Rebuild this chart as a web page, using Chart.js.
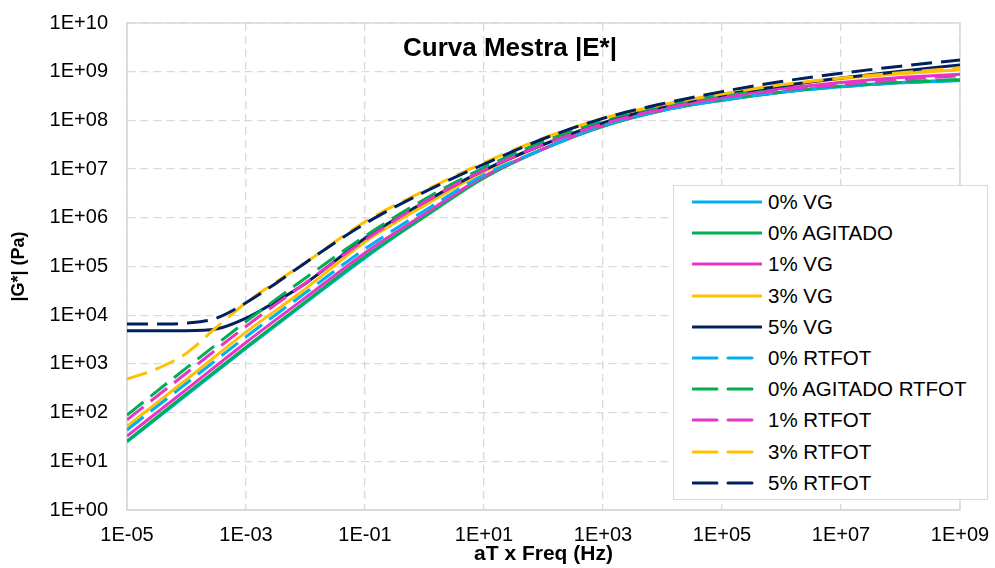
<!DOCTYPE html>
<html>
<head>
<meta charset="utf-8">
<script src="https://cdn.jsdelivr.net/npm/chart.js@4/dist/chart.umd.min.js"></script>
<style>
  html, body { margin: 0; padding: 0; background: #fff; }
  #wrap { position: relative; width: 995px; height: 568px; font-family: "Liberation Sans", Arial, sans-serif; }
  #title { position: absolute; left: 0; width: 1020px; top: 31px; text-align: center; font-weight: bold; font-size: 26px; color: #000; line-height: 32px; }
  #legend { position: absolute; left: 673px; top: 185px; width: 315px; height: 315px; border: 1.5px solid #D9D9D9; background: #fff; box-sizing: border-box; }
  .row { position: absolute; left: 0; height: 24px; }
  .row svg { position: absolute; left: 18px; top: 9px; }
  .row span { position: absolute; left: 94px; top: 0; font-size: 20.5px; line-height: 24px; white-space: nowrap; color: #000; }
</style>
</head>
<body>
<div id="wrap">
  <canvas id="c" width="995" height="568"></canvas>
  <div id="title">Curva Mestra |E*|</div>
  <div id="legend"></div>
</div>
<script>
// ---- data ----
const freqDecades = [1e-5, 1e-4, 1e-3, 1e-2, 1e-1, 1e0, 1e1, 1e2, 1e3, 1e4, 1e5, 1e6, 1e7, 1e8, 1e9];
const freqFine = [1e-5, 3.16e-5, 1e-4, 3.16e-4, 1e-3, 3.16e-3, 1e-2, 1e-1, 1e0, 1e1, 1e2, 1e3, 1e4, 1e5, 1e6, 1e7, 1e8, 1e9];

const g0VG       = [2.5e1, 2.3e2, 2.1e3, 1.8e4, 1.5e5, 1.07e6, 6.8e6, 2.6e7, 7.6e7, 1.6e8, 2.6e8, 3.8e8, 4.9e8, 5.9e8, 6.6e8];
const g0Agitado  = [2.6e1, 2.45e2, 2.2e3, 1.9e4, 1.6e5, 1.05e6, 6.6e6, 2.6e7, 7.6e7, 1.6e8, 2.6e8, 3.8e8, 5.0e8, 6.0e8, 6.8e8];
const g1VG       = [3.3e1, 3.0e2, 2.75e3, 2.3e4, 1.9e5, 1.2e6, 7.1e6, 2.6e7, 7.9e7, 1.66e8, 2.9e8, 4.5e8, 6.0e8, 7.6e8, 8.9e8];
const g3VG       = [5.2e1, 4.8e2, 4.5e3, 3.5e4, 3.2e5, 1.8e6, 8.9e6, 3.2e7, 8.9e7, 2.0e8, 3.4e8, 5.2e8, 7.2e8, 9.1e8, 1.1e9];
const g5VG       = [4.8e3, 4.8e3, 4.8e3, 5.2e3, 8.7e3, 1.9e4, 4.5e4, 3.8e5, 2.1e6, 9.5e6, 3.2e7, 8.9e7, 1.9e8, 3.3e8, 5.1e8, 7.4e8, 1.02e9, 1.38e9];
const g0RT       = [4.4e1, 4.0e2, 3.6e3, 2.9e4, 2.3e5, 1.4e6, 7.6e6, 2.6e7, 7.9e7, 1.6e8, 2.6e8, 3.8e8, 4.9e8, 5.9e8, 6.6e8];
const g0AgitRT   = [8.9e1, 8.3e2, 7.4e3, 5.8e4, 4.2e5, 2.4e6, 1.07e7, 3.7e7, 1.0e8, 2.0e8, 3.2e8, 4.2e8, 5.2e8, 6.2e8, 6.9e8];
const g1RT       = [7.1e1, 6.5e2, 5.9e3, 4.6e4, 3.5e5, 2.1e6, 9.5e6, 3.2e7, 8.5e7, 1.74e8, 2.9e8, 4.2e8, 5.5e8, 6.9e8, 8.3e8];
const g3RT       = [4.9e2, 7.9e2, 1.66e3, 5.6e3, 1.8e4, 4.8e4, 1.2e5, 8.3e5, 3.6e6, 1.35e7, 4.3e7, 1.1e8, 2.1e8, 3.5e8, 5.4e8, 7.4e8, 9.5e8, 1.2e9];
const g5RT       = [6.6e3, 6.6e3, 6.9e3, 8.7e3, 1.8e4, 4.5e4, 1.2e5, 7.6e5, 3.4e6, 1.26e7, 4.2e7, 1.1e8, 2.2e8, 3.9e8, 6.3e8, 9.3e8, 1.3e9, 1.74e9];

const seriesLabels = ['0% VG', '0% AGITADO', '1% VG', '3% VG', '5% VG', '0% RTFOT', '0% AGITADO RTFOT', '1% RTFOT', '3% RTFOT', '5% RTFOT'];
const seriesX = [freqDecades, freqDecades, freqDecades, freqDecades, freqFine, freqDecades, freqDecades, freqDecades, freqFine, freqFine];
const seriesY = [g0VG, g0Agitado, g1VG, g3VG, g5VG, g0RT, g0AgitRT, g1RT, g3RT, g5RT];
const seriesColors = ['#00B0F0', '#00B050', '#E636C9', '#FFC000', '#002060', '#00B0F0', '#00B050', '#E636C9', '#FFC000', '#002060'];
const seriesDashed = [false, false, false, false, false, true, true, true, true, true];

const xTickValues = [1e-5, 1e-3, 1e-1, 1e1, 1e3, 1e5, 1e7, 1e9];
const xTickLabels = ['1E-05', '1E-03', '1E-01', '1E+01', '1E+03', '1E+05', '1E+07', '1E+09'];
const yTickValues = [1e0, 1e1, 1e2, 1e3, 1e4, 1e5, 1e6, 1e7, 1e8, 1e9, 1e10];
const yTickLabels = ['1E+00', '1E+01', '1E+02', '1E+03', '1E+04', '1E+05', '1E+06', '1E+07', '1E+08', '1E+09', '1E+10'];

// ---- chart ----
const FONT = '"Liberation Sans", Arial, sans-serif';
const GRID = '#D9D9D9';
const DASH = [21, 9];

function labelFor(values, labels, v) {
  const i = values.findIndex(t => Math.abs(Math.log10(t) - Math.log10(v)) < 1e-6);
  return i >= 0 ? labels[i] : '';
}

const datasets = seriesLabels.map((lab, i) => ({
  label: lab,
  data: seriesX[i].map((x, k) => ({ x: x, y: seriesY[i][k] })),
  borderColor: seriesColors[i],
  backgroundColor: seriesColors[i],
  borderWidth: 3,
  borderDash: seriesDashed[i] ? DASH : [],
  pointRadius: 0,
  fill: false,
  cubicInterpolationMode: 'monotone',
  order: seriesLabels.length - i
}));

const frame = {
  id: 'frame',
  beforeDatasetsDraw(chart) {
    const a = chart.chartArea, ctx = chart.ctx;
    ctx.save();
    ctx.strokeStyle = GRID;
    ctx.lineWidth = 1.5;
    ctx.setLineDash([]);
    ctx.strokeRect(a.left, a.top, a.right - a.left, a.bottom - a.top);
    ctx.restore();
  }
};

new Chart(document.getElementById('c'), {
  type: 'line',
  data: { datasets },
  plugins: [frame],
  options: {
    responsive: false,
    devicePixelRatio: 1,
    animation: false,
    layout: { padding: { left: 0, right: 35, top: 23, bottom: 0 } },
    plugins: { legend: { display: false }, tooltip: { enabled: false }, title: { display: false } },
    scales: {
      x: {
        type: 'logarithmic',
        min: 1e-5, max: 1e9,
        afterBuildTicks: s => { s.ticks = xTickValues.map(v => ({ value: v })); },
        afterFit: s => { s.height = 58; s.paddingLeft = 0; s.paddingRight = 0; },
        ticks: {
          autoSkip: false, maxRotation: 0, minRotation: 0, padding: 13,
          color: '#000', font: { family: FONT, size: 20 },
          callback: v => labelFor(xTickValues, xTickLabels, v)
        },
        grid: { color: GRID, lineWidth: 1.3, drawTicks: false },
        border: { display: true, color: GRID, width: 1.5, dash: [8, 5] },
        title: { display: true, text: 'aT x Freq (Hz)', color: '#000', font: { family: FONT, size: 21, weight: 'bold' }, padding: { top: 0, bottom: 1 } }
      },
      y: {
        type: 'logarithmic',
        min: 1, max: 1e10,
        afterBuildTicks: s => { s.ticks = yTickValues.map(v => ({ value: v })); },
        afterFit: s => { s.width = 127; s.paddingTop = 0; s.paddingBottom = 0; },
        ticks: {
          autoSkip: false, padding: 19,
          color: '#000', font: { family: FONT, size: 20 },
          callback: v => labelFor(yTickValues, yTickLabels, v)
        },
        grid: { color: GRID, lineWidth: 1.3, drawTicks: false },
        border: { display: true, color: GRID, width: 1.5, dash: [8, 5] },
        title: { display: true, text: '|G*| (Pa)', color: '#000', font: { family: FONT, size: 18, weight: 'bold' }, padding: { top: 8, bottom: 0 } }
      }
    }
  }
});

// ---- legend (HTML, built from the series arrays) ----
const leg = document.getElementById('legend');
seriesLabels.forEach((lab, i) => {
  const row = document.createElement('div');
  row.className = 'row';
  row.style.top = (4 + i * 31.2) + 'px';
  const c = seriesColors[i];
  const line = seriesDashed[i]
    ? `<line x1="1" y1="3" x2="25" y2="3" stroke="${c}" stroke-width="3" stroke-linecap="round"/><line x1="36" y1="3" x2="60" y2="3" stroke="${c}" stroke-width="3" stroke-linecap="round"/>`
    : `<line x1="1" y1="3" x2="69" y2="3" stroke="${c}" stroke-width="3" stroke-linecap="round"/>`;
  row.innerHTML = `<svg width="70" height="6">${line}</svg><span>${lab}</span>`;
  leg.appendChild(row);
});
</script>
</body>
</html>
